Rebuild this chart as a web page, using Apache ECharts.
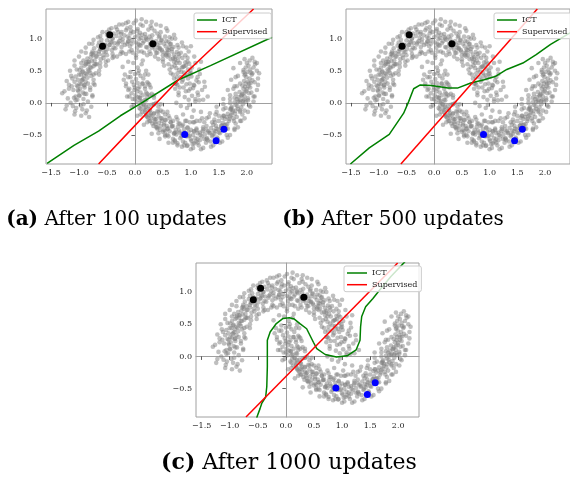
<!DOCTYPE html>
<html><head><meta charset="utf-8">
<script src="https://cdn.jsdelivr.net/npm/echarts@6/dist/echarts.min.js"></script>
<style>html,body{margin:0;padding:0;background:#fff}#c{width:570px;height:486px}</style>
</head><body><div id="c"></div>
<script>
// ---- data ----
const upperMoon = [
[1.08,0.02],[0.93,-0.08],[1.02,0.11],[0.96,0.05],[1.12,0.16],[0.89,0.09],[1.05,-0.12],[0.99,0.22],[0.91,0.18],[1.15,0.04],[0.97,-0.03],
[0.98,0.30],[1.06,0.27],[0.87,0.24],[0.95,0.38],[1.10,0.35],[0.92,0.29],[0.84,0.33],[1.01,0.41],[0.96,0.19],[0.89,0.42],[1.04,0.23],
[0.88,0.47],[0.95,0.52],[0.82,0.40],[1.00,0.46],[0.91,0.58],[0.79,0.51],[0.86,0.36],[0.97,0.61],[0.84,0.55],[0.93,0.43],[0.76,0.46],
[0.80,0.62],[0.71,0.58],[0.85,0.70],[0.77,0.66],[0.90,0.63],[0.68,0.69],[0.82,0.78],[0.74,0.54],[0.79,0.72],[0.88,0.57],[0.70,0.75],
[0.66,0.80],[0.72,0.71],[0.61,0.74],[0.69,0.87],[0.75,0.79],[0.58,0.83],[0.64,0.68],[0.78,0.86],[0.55,0.77],[0.63,0.91],[0.70,0.64],
[0.55,0.88],[0.49,0.80],[0.60,0.95],[0.52,0.92],[0.45,0.85],[0.58,0.78],[0.47,0.97],[0.62,0.86],[0.40,0.90],[0.54,1.03],[0.50,0.74],
[0.38,0.96],[0.43,1.02],[0.33,0.88],[0.40,1.08],[0.29,0.99],[0.36,0.83],[0.45,0.93],[0.31,1.05],[0.27,0.92],[0.42,0.86],[0.35,1.12],
[0.22,0.98],[0.18,1.07],[0.26,1.03],[0.14,0.93],[0.20,0.87],[0.11,1.01],[0.24,1.14],[0.16,0.96],[0.28,0.90],[0.09,1.09],[0.19,1.02],
[0.06,1.05],[0.02,0.94],[0.10,0.89],[-0.03,1.10],[0.05,1.15],[0.08,0.99],[-0.05,0.97],[0.13,1.06],[0.00,1.02],[-0.08,1.08],[0.04,0.86],
[-0.10,1.01],[-0.14,0.92],[-0.07,1.12],[-0.19,1.05],[-0.12,0.95],[-0.22,0.99],[-0.16,1.13],[-0.09,0.88],[-0.25,1.07],[-0.18,0.90],[-0.13,1.03],
[-0.28,0.96],[-0.33,1.04],[-0.24,0.87],[-0.37,0.93],[-0.30,1.10],[-0.40,1.00],[-0.26,1.01],[-0.35,0.85],[-0.42,0.94],[-0.31,0.91],[-0.38,1.08],
[-0.45,0.90],[-0.50,0.97],[-0.41,0.82],[-0.55,0.86],[-0.47,1.02],[-0.52,0.79],[-0.58,0.92],[-0.44,0.95],[-0.49,0.84],[-0.60,0.98],[-0.53,0.90],
[-0.62,0.83],[-0.57,0.74],[-0.66,0.89],[-0.70,0.78],[-0.61,0.68],[-0.64,0.80],[-0.73,0.85],[-0.55,0.80],[-0.68,0.72],[-0.59,0.88],[-0.75,0.74],
[-0.72,0.66],[-0.79,0.71],[-0.68,0.60],[-0.82,0.64],[-0.76,0.77],[-0.85,0.69],[-0.74,0.57],[-0.70,0.72],[-0.88,0.60],[-0.80,0.55],[-0.77,0.65],
[-0.84,0.52],[-0.90,0.58],[-0.80,0.47],[-0.93,0.49],[-0.87,0.63],[-0.96,0.55],[-0.78,0.55],[-0.91,0.42],[-0.83,0.60],[-0.99,0.51],[-0.86,0.45],
[-0.92,0.38],[-0.97,0.44],[-0.88,0.33],[-1.02,0.36],[-0.94,0.48],[-1.06,0.41],[-0.85,0.39],[-0.99,0.30],[-0.91,0.27],[-1.08,0.33],[-0.95,0.35],
[-0.98,0.22],[-1.04,0.27],[-0.93,0.16],[-1.10,0.20],[-1.00,0.12],[-0.90,0.24],[-1.13,0.26],[-1.06,0.10],[-0.96,0.29],[-1.01,0.18],[-0.87,0.14],
[-1.03,0.05],[-0.97,-0.04],[-1.09,0.08],[-1.15,0.00],[-0.92,0.06],[-1.05,-0.08],[-1.20,0.07],[-0.99,0.11],[-1.11,-0.05],[-0.94,-0.10],[-1.30,0.15],[-1.07,-0.13],[-0.88,-0.16]
];
const upperMoonOuter = [
[1.22,0.05],[0.78,0.12],[1.18,-0.14],[0.82,-0.05],[1.25,0.25],[0.76,0.28],[1.02,-0.22],[0.86,-0.18],[1.14,0.32],[1.30,0.10],[0.74,0.00],
[1.20,0.20],[0.74,0.30],[1.16,0.45],[0.78,0.16],[1.24,0.33],[0.70,0.38],[1.08,0.06],[0.83,0.48],[1.13,0.12],[0.99,0.50],[0.72,0.22],
[1.12,0.40],[0.68,0.44],[1.08,0.62],[0.72,0.30],[1.15,0.52],[0.66,0.56],[0.94,0.70],[0.80,0.24],[1.05,0.28],[0.74,0.62],[1.18,0.64],
[1.02,0.55],[0.60,0.60],[0.96,0.80],[0.64,0.46],[1.06,0.72],[0.58,0.72],[0.86,0.88],[0.75,0.40],[0.98,0.45],[0.66,0.84],[1.00,0.88],
[0.90,0.74],[0.50,0.68],[0.84,0.94],[0.52,0.58],[0.92,0.86],[0.48,0.82],[0.72,1.00],[0.62,0.52],[0.86,0.56],[0.56,0.96],[0.94,0.64],
[0.76,0.90],[0.38,0.78],[0.70,1.06],[0.42,0.68],[0.78,0.76],[0.36,0.92],[0.58,1.12],[0.50,0.64],[0.72,0.68],[0.44,1.04],[0.66,1.00],
[0.62,1.02],[0.22,0.86],[0.56,1.16],[0.28,0.76],[0.60,0.82],[0.20,1.00],[0.46,1.20],[0.36,0.72],[0.55,0.74],[0.30,1.16],[0.64,0.92],
[0.46,1.10],[0.06,0.92],[0.38,1.22],[0.12,0.80],[0.44,0.84],[0.04,1.12],[0.30,1.26],[0.22,0.74],[0.40,0.78],[0.14,1.20],[0.48,0.98],
[0.28,1.20],[-0.12,0.96],[0.20,1.26],[-0.06,0.82],[0.26,0.80],[-0.14,1.16],[0.12,1.30],[0.02,0.74],[0.30,0.86],[-0.02,1.24],[0.16,0.78],
[0.10,1.22],[-0.30,0.94],[0.02,1.28],[-0.24,0.80],[0.06,0.80],[-0.32,1.14],[-0.12,1.26],[-0.16,0.76],[0.08,0.90],[-0.22,1.22],[-0.04,0.78],
[-0.08,1.18],[-0.46,0.90],[-0.16,1.24],[-0.40,0.76],[-0.10,0.80],[-0.50,1.10],[-0.28,1.22],[-0.32,0.72],[-0.06,0.92],[-0.42,1.16],[-0.22,0.78],
[-0.24,1.10],[-0.62,0.84],[-0.34,1.18],[-0.56,0.70],[-0.26,0.76],[-0.66,1.02],[-0.46,1.14],[-0.48,0.66],[-0.22,0.94],[-0.58,1.10],[-0.38,0.72],
[-0.40,1.00],[-0.78,0.76],[-0.50,1.06],[-0.70,0.60],[-0.40,0.70],[-0.82,0.92],[-0.62,1.04],[-0.62,0.56],[-0.38,0.86],[-0.74,0.98],[-0.52,0.64],
[-0.54,0.90],[-0.92,0.66],[-0.64,0.94],[-0.82,0.50],[-0.52,0.58],[-0.96,0.80],[-0.76,0.92],[-0.74,0.44],[-0.50,0.74],[-0.88,0.86],[-0.64,0.50],
[-0.64,0.76],[-1.04,0.52],[-0.76,0.80],[-0.94,0.36],[-0.64,0.44],[-1.08,0.66],[-0.88,0.78],[-0.84,0.30],[-0.62,0.62],[-1.00,0.72],[-0.74,0.36],
[-0.72,0.60],[-1.12,0.38],[-0.84,0.64],[-1.02,0.20],[-0.72,0.28],[-1.16,0.50],[-0.96,0.62],[-0.90,0.14],[-0.70,0.46],[-1.08,0.58],[-0.80,0.20],
[-0.78,0.42],[-1.18,0.22],[-0.88,0.46],[-1.06,0.04],[-0.76,0.10],[-1.22,0.34],[-1.00,0.44],[-0.92,-0.02],[-0.74,0.30],[-1.14,0.42],[-0.84,0.02],
[-0.80,0.24],[-1.22,-0.04],[-0.90,0.28],[-1.08,-0.18],[-0.78,-0.06],[-1.26,0.18],[-1.02,0.26],[-0.96,-0.20],[-0.76,0.12],[-1.18,0.28],[-0.86,-0.12],[-1.24,-0.10],[-0.82,-0.22]
];
const lowerMoon = [
[0.05,0.55],[-0.08,0.48],[0.10,0.42],[-0.03,0.62],[0.02,0.37],[-0.12,0.40],[0.07,0.50],[0.12,0.60],[-0.05,0.33],[0.00,0.45],[0.15,0.38],
[-0.02,0.28],[0.08,0.25],[0.04,0.18],[-0.10,0.22],[0.13,0.30],[0.01,0.12],[0.10,0.16],[-0.06,0.15],[0.18,0.22],[0.05,0.31],[-0.01,0.20],
[0.09,0.08],[0.14,0.12],[0.03,0.02],[0.18,0.05],[0.11,-0.04],[0.22,0.10],[0.06,0.09],[0.16,-0.02],[0.00,0.06],[0.20,0.16],[0.12,0.03],
[0.17,-0.08],[0.24,-0.05],[0.13,-0.14],[0.27,-0.12],[0.20,-0.18],[0.30,-0.03],[0.15,-0.02],[0.22,-0.22],[0.10,-0.10],[0.28,-0.16],[0.19,-0.11],
[0.29,-0.21],[0.34,-0.17],[0.26,-0.28],[0.38,-0.25],[0.31,-0.32],[0.42,-0.20],[0.24,-0.24],[0.36,-0.30],[0.40,-0.13],[0.33,-0.36],[0.27,-0.19],
[0.43,-0.31],[0.48,-0.28],[0.40,-0.38],[0.52,-0.35],[0.45,-0.42],[0.55,-0.27],[0.37,-0.33],[0.50,-0.45],[0.46,-0.24],[0.58,-0.40],[0.42,-0.47],
[0.57,-0.36],[0.62,-0.44],[0.54,-0.50],[0.66,-0.37],[0.60,-0.52],[0.70,-0.47],[0.52,-0.42],[0.64,-0.30],[0.68,-0.56],[0.59,-0.40],[0.73,-0.42],
[0.74,-0.49],[0.79,-0.43],[0.71,-0.58],[0.83,-0.52],[0.77,-0.37],[0.86,-0.60],[0.72,-0.46],[0.81,-0.55],[0.88,-0.41],[0.76,-0.63],[0.84,-0.48],
[0.92,-0.52],[0.96,-0.45],[0.90,-0.62],[1.00,-0.57],[0.94,-0.39],[1.03,-0.64],[0.89,-0.50],[0.98,-0.51],[1.05,-0.44],[0.93,-0.67],[1.01,-0.59],
[1.08,-0.55],[1.12,-0.47],[1.06,-0.63],[1.16,-0.58],[1.10,-0.40],[1.19,-0.52],[1.04,-0.50],[1.14,-0.66],[1.21,-0.44],[1.09,-0.60],[1.17,-0.50],
[1.25,-0.49],[1.29,-0.55],[1.22,-0.41],[1.33,-0.47],[1.27,-0.62],[1.36,-0.39],[1.24,-0.56],[1.31,-0.44],[1.38,-0.52],[1.28,-0.36],[1.35,-0.60],
[1.41,-0.43],[1.45,-0.36],[1.39,-0.50],[1.49,-0.41],[1.43,-0.30],[1.52,-0.47],[1.40,-0.34],[1.47,-0.54],[1.55,-0.35],[1.44,-0.44],[1.50,-0.28],
[1.57,-0.31],[1.61,-0.25],[1.54,-0.39],[1.65,-0.33],[1.59,-0.20],[1.68,-0.28],[1.56,-0.23],[1.63,-0.40],[1.70,-0.21],[1.60,-0.35],[1.66,-0.17],
[1.72,-0.19],[1.75,-0.12],[1.69,-0.25],[1.79,-0.17],[1.73,-0.06],[1.82,-0.22],[1.70,-0.10],[1.77,-0.28],[1.84,-0.09],[1.74,-0.15],[1.80,-0.03],
[1.83,-0.05],[1.87,0.02],[1.80,-0.12],[1.90,-0.07],[1.85,0.09],[1.93,-0.02],[1.78,0.01],[1.88,-0.14],[1.95,0.05],[1.82,0.06],[1.91,0.12],
[1.92,0.14],[1.96,0.10],[1.89,0.04],[1.99,0.18],[1.94,0.22],[1.87,0.17],[2.02,0.07],[1.97,0.25],[1.90,0.11],[2.04,0.15],[1.93,0.03],
[1.98,0.30],[2.03,0.26],[1.95,0.34],[2.07,0.31],[1.99,0.40],[1.92,0.27],[2.05,0.38],[2.00,0.21],[2.10,0.35],[1.96,0.43],[2.02,0.33],
[2.01,0.48],[2.06,0.52],[1.97,0.45],[2.09,0.44],[2.03,0.58],[1.94,0.51],[2.12,0.55],[2.00,0.62],[2.07,0.47],[2.15,0.60],[1.98,0.55],[2.05,0.66],[2.18,0.62]
];
const lowerMoonOuter = [
[0.20,0.50],[-0.18,0.44],[0.14,0.66],[-0.16,0.30],[0.22,0.32],[-0.22,0.56],[0.02,0.70],[0.06,0.22],[0.24,0.44],[-0.12,0.64],[0.18,0.26],
[0.24,0.30],[-0.16,0.26],[0.18,0.44],[-0.14,0.10],[0.26,0.12],[-0.20,0.36],[0.06,0.46],[0.10,0.02],[0.28,0.24],[-0.08,0.40],[0.20,0.04],
[0.30,0.14],[-0.10,0.10],[0.26,0.28],[-0.06,-0.06],[0.34,-0.02],[-0.12,0.20],[0.14,0.30],[0.18,-0.14],[0.34,0.08],[0.00,0.24],[0.26,-0.10],
[0.38,0.00],[-0.02,-0.04],[0.34,0.12],[0.04,-0.20],[0.42,-0.14],[-0.04,0.06],[0.22,0.14],[0.28,-0.28],[0.42,-0.06],[0.08,0.08],[0.34,-0.24],
[0.50,-0.14],[0.10,-0.18],[0.46,-0.02],[0.16,-0.34],[0.54,-0.26],[0.08,-0.08],[0.34,-0.02],[0.40,-0.40],[0.54,-0.18],[0.20,-0.06],[0.46,-0.36],
[0.62,-0.24],[0.22,-0.30],[0.58,-0.14],[0.30,-0.48],[0.66,-0.36],[0.20,-0.20],[0.46,-0.12],[0.54,-0.52],[0.68,-0.28],[0.34,-0.16],[0.58,-0.50],
[0.78,-0.32],[0.38,-0.38],[0.74,-0.22],[0.44,-0.56],[0.80,-0.46],[0.36,-0.26],[0.60,-0.20],[0.68,-0.62],[0.84,-0.36],[0.48,-0.24],[0.72,-0.60],
[0.94,-0.38],[0.54,-0.44],[0.90,-0.28],[0.60,-0.62],[0.96,-0.52],[0.52,-0.32],[0.76,-0.26],[0.84,-0.68],[1.00,-0.42],[0.64,-0.30],[0.88,-0.66],
[1.10,-0.42],[0.70,-0.48],[1.06,-0.30],[0.76,-0.66],[1.12,-0.56],[0.68,-0.36],[0.92,-0.28],[1.00,-0.72],[1.16,-0.46],[0.80,-0.32],[1.04,-0.70],
[1.28,-0.42],[0.88,-0.46],[1.24,-0.30],[0.94,-0.66],[1.30,-0.58],[0.86,-0.34],[1.10,-0.28],[1.18,-0.72],[1.34,-0.46],[0.98,-0.30],[1.22,-0.70],
[1.46,-0.40],[1.06,-0.44],[1.42,-0.26],[1.12,-0.62],[1.48,-0.56],[1.04,-0.30],[1.28,-0.24],[1.36,-0.68],[1.50,-0.46],[1.16,-0.28],[1.40,-0.66],
[1.62,-0.34],[1.22,-0.38],[1.58,-0.20],[1.28,-0.56],[1.64,-0.50],[1.20,-0.24],[1.44,-0.18],[1.52,-0.62],[1.66,-0.40],[1.32,-0.22],[1.56,-0.60],
[1.76,-0.24],[1.38,-0.30],[1.72,-0.10],[1.42,-0.48],[1.78,-0.40],[1.34,-0.16],[1.58,-0.10],[1.66,-0.54],[1.80,-0.32],[1.46,-0.14],[1.70,-0.50],
[1.88,-0.12],[1.50,-0.20],[1.84,0.02],[1.54,-0.36],[1.90,-0.28],[1.46,-0.06],[1.70,0.00],[1.78,-0.42],[1.92,-0.18],[1.58,-0.02],[1.84,-0.38],
[1.98,0.02],[1.62,-0.08],[1.96,0.16],[1.64,-0.22],[2.02,-0.14],[1.58,0.06],[1.80,0.14],[1.88,-0.28],[2.04,-0.04],[1.70,0.12],[1.96,-0.24],
[2.08,0.16],[1.70,0.06],[2.04,0.30],[1.72,-0.08],[2.12,0.02],[1.66,0.20],[1.88,0.30],[1.96,-0.12],[2.14,0.10],[1.78,0.26],[2.06,-0.06],
[2.14,0.32],[1.76,0.22],[2.10,0.46],[1.78,0.08],[2.18,0.20],[1.72,0.36],[1.94,0.48],[2.02,0.04],[2.20,0.28],[1.84,0.42],[2.12,0.10],
[2.18,0.50],[1.80,0.40],[2.14,0.64],[1.82,0.26],[2.20,0.38],[1.76,0.54],[1.96,0.68],[2.06,0.24],[2.22,0.46],[1.88,0.62],[2.10,0.70]
];
const labeledBlack = [[-0.58,0.88],[-0.45,1.06],[0.32,0.92]];
const labeledBlue = [[0.89,-0.49],[1.45,-0.59],[1.59,-0.41]];

const ictA = [[-1.57,-0.94],[-1.09,-0.66],[-0.65,-0.44],[-0.26,-0.20],[0.10,-0.01],[0.78,0.36],[1.35,0.58],[2.45,1.02]];
const supA = [[-0.65,-0.95],[0.10,-0.26],[0.78,0.36],[2.12,1.46]];
const ictB = [[-1.51,-0.95],[-1.17,-0.70],[-0.81,-0.49],[-0.55,-0.16],[-0.46,0.02],[-0.37,0.22],[-0.25,0.28],[-0.05,0.27],[0.25,0.23],[0.42,0.23],[0.66,0.31],[0.90,0.36],[1.10,0.41],[1.31,0.52],[1.60,0.62],[1.84,0.75],[2.10,0.91],[2.45,1.09]];
const supB = [[-0.60,-0.95],[1.86,1.46]];
const ictC = [[-0.52,-0.95],[-0.46,-0.81],[-0.43,-0.73],[-0.36,-0.63],[-0.34,-0.47],[-0.33,-0.16],[-0.33,0.25],[-0.28,0.38],[-0.17,0.51],[-0.05,0.59],[0.06,0.60],[0.15,0.58],[0.25,0.51],[0.37,0.43],[0.49,0.22],[0.55,0.12],[0.70,0.03],[0.90,-0.01],[1.09,0.01],[1.25,0.10],[1.32,0.25],[1.33,0.46],[1.35,0.62],[1.42,0.77],[1.55,0.90],[1.67,1.03],[1.87,1.24],[2.12,1.47]];
const supC = [[-0.71,-0.94],[1.99,1.45]];

const xTicks = [-1.5,-1.0,-0.5,0.0,0.5,1.0,1.5,2.0];
const yTicks = [-0.5,0.0,0.5,1.0];
const seriesNames = ['ICT','Supervised'];
const captionTags = ['(a)','(b)','(c)'];
const captionTexts = ['After 100 updates','After 500 updates','After 1000 updates'];

// ---- layout / style ----
const panels = [
  {grid:{left:46,top:9,width:226,height:155}, x:[-1.59,2.45], y:[-0.95,1.46], ict:ictA, sup:supA, legend:{left:194,top:13}, cap:{x:116.5,y:219.5,size:20}},
  {grid:{left:346,top:9,width:229,height:155}, x:[-1.59,2.45], y:[-0.95,1.46], ict:ictB, sup:supB, legend:{left:494,top:13}, cap:{x:393,y:219.5,size:20}},
  {grid:{left:196,top:263,width:223,height:154}, x:[-1.60,2.37], y:[-0.94,1.45], ict:ictC, sup:supC, legend:{left:344,top:266}, cap:{x:289,y:463.5,size:22}}
];
const FONT = 'DejaVu Serif';
const fmt = v => (v < 0 ? '\u2212' : '') + Math.abs(v).toFixed(1);
const allPoints = upperMoon.concat(upperMoonOuter, lowerMoon, lowerMoonOuter);

const option = {animation:false, backgroundColor:'#fff', grid:[], xAxis:[], yAxis:[], series:[], legend:[], graphic:[]};
panels.forEach((p, i) => {
  option.grid.push(Object.assign({show:true, borderColor:'#a0a0a0', borderWidth:1, containLabel:false}, p.grid));
  const axisLine = {show:true, lineStyle:{color:'#a0a0a0', width:1}};
  option.xAxis.push({
    type:'value', gridIndex:i, min:p.x[0], max:p.x[1], axisLine, splitLine:{show:false},
    axisTick:{show:true, length:3.5, lineStyle:{color:'#333', width:0.8}, customValues:xTicks},
    axisLabel:{customValues:xTicks, formatter:fmt, fontFamily:FONT, fontSize:8, color:'#222', margin:5}
  });
  option.yAxis.push({
    type:'value', gridIndex:i, min:p.y[0], max:p.y[1], axisLine, splitLine:{show:false},
    axisTick:{show:true, length:3.5, lineStyle:{color:'#333', width:0.8}, customValues:yTicks},
    axisLabel:{customValues:yTicks, formatter:fmt, fontFamily:FONT, fontSize:8, color:'#222', margin:4}
  });
  option.series.push({type:'scatter', name:'data'+i, xAxisIndex:i, yAxisIndex:i, data:allPoints,
    symbolSize:4.6, itemStyle:{color:'rgb(128,128,128)', opacity:0.5}, z:1, silent:true});
  option.series.push({type:'scatter', name:'black'+i, xAxisIndex:i, yAxisIndex:i, data:labeledBlack,
    symbolSize:7, itemStyle:{color:'#000', opacity:1}, z:2, silent:true});
  option.series.push({type:'scatter', name:'blue'+i, xAxisIndex:i, yAxisIndex:i, data:labeledBlue,
    symbolSize:7, itemStyle:{color:'#0000ff', opacity:1}, z:2, silent:true});
  option.series.push({type:'line', name:seriesNames[0], xAxisIndex:i, yAxisIndex:i, data:p.ict,
    symbol:'none', showSymbol:false, lineStyle:{color:'#008000', width:1.5}, itemStyle:{color:'#008000'}, clip:true, z:3});
  option.series.push({type:'line', name:seriesNames[1], xAxisIndex:i, yAxisIndex:i, data:p.sup,
    symbol:'none', showSymbol:false, lineStyle:{color:'#ff0000', width:1.5}, itemStyle:{color:'#ff0000'}, clip:true, z:3});
  option.legend.push({
    data:seriesNames, orient:'vertical', left:p.legend.left, top:p.legend.top,
    icon:'rect', itemWidth:20, itemHeight:1.5, itemGap:1.7, padding:[2,4,2,3],
    backgroundColor:'rgba(255,255,255,0.8)', borderColor:'#cccccc', borderWidth:1, borderRadius:2,
    textStyle:{fontFamily:FONT, fontSize:8, lineHeight:10, color:'#222'}, selectedMode:false, z:10
  });
  option.graphic.push({type:'text', x:p.cap.x, y:p.cap.y, z:10, style:{
    text:'{b|' + captionTags[i] + '} ' + captionTexts[i],
    fontFamily:FONT, fontSize:p.cap.size, fill:'#000', align:'center', verticalAlign:'middle',
    rich:{b:{fontFamily:FONT, fontSize:p.cap.size, fontWeight:'bold', fill:'#000'}}
  }});
});
const chart = echarts.init(document.getElementById('c'), null, {renderer:'canvas'});
chart.setOption(option);
</script></body></html>
